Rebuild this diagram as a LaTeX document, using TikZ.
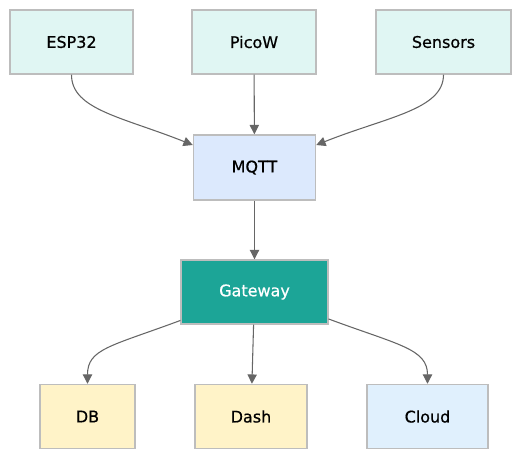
\documentclass[tikz,border=0pt]{standalone}
\usepackage{fontspec}
\setmainfont{DejaVu Sans}[FakeBold=0.6]
\usetikzlibrary{arrows.meta}
\definecolor{srcfill}{HTML}{E0F6F3}
\definecolor{mqfill}{HTML}{DCE9FD}
\definecolor{gwfill}{HTML}{1CA597}
\definecolor{ylfill}{HTML}{FFF3C8}
\definecolor{clfill}{HTML}{E0F0FD}
\definecolor{bordc}{HTML}{BDBDBD}
\definecolor{edgec}{HTML}{666666}
\tikzset{
  box/.style={draw=bordc, line width=1.1pt, minimum height=48pt, inner sep=2pt,
    font=\fontsize{12}{14}\selectfont, text=black},
  conn/.style={draw=edgec, line width=0.8pt, -{Triangle[length=7pt,width=7pt]}},
}
\begin{document}
\begin{tikzpicture}[x=0.75pt,y=-0.75pt]
\useasboundingbox (0,0) rectangle (521,458);
\node[box, fill=srcfill, minimum width=92pt] (esp) at (71.5,42) {ESP32};
\node[box, fill=srcfill, minimum width=93pt] (pico) at (254,42) {PicoW};
\node[box, fill=srcfill, minimum width=101pt] (sens) at (443.5,42) {Sensors};
\node[box, fill=mqfill, minimum width=91.5pt, minimum height=48.75pt] (mqtt) at (254.5,167.5) {MQTT};
\node[box, fill=gwfill, text=white, minimum width=110pt] (gw) at (254.5,292) {Gateway};
\node[box, fill=ylfill, minimum width=71pt] (db) at (87.5,416.5) {DB};
\node[box, fill=ylfill, minimum width=84pt] (dash) at (251,416.5) {Dash};
\node[box, fill=clfill, minimum width=90.5pt] (cloud) at (427.5,416.5) {Cloud};
\draw[conn] (esp.south) .. controls +(0,35) and +(-70,-28) .. (mqtt.160);
\draw[conn] (pico) -- (mqtt);
\draw[conn] (sens.south) .. controls +(0,35) and +(70,-28) .. (mqtt.20);
\draw[conn] (mqtt) -- (gw);
\draw[conn] (gw.201) .. controls +(-70,26) and +(0,-35) .. (db.north);
\draw[conn] (gw) -- (dash);
\draw[conn] (gw.-20) .. controls +(70,26) and +(0,-35) .. (cloud.north);
\end{tikzpicture}
\end{document}
